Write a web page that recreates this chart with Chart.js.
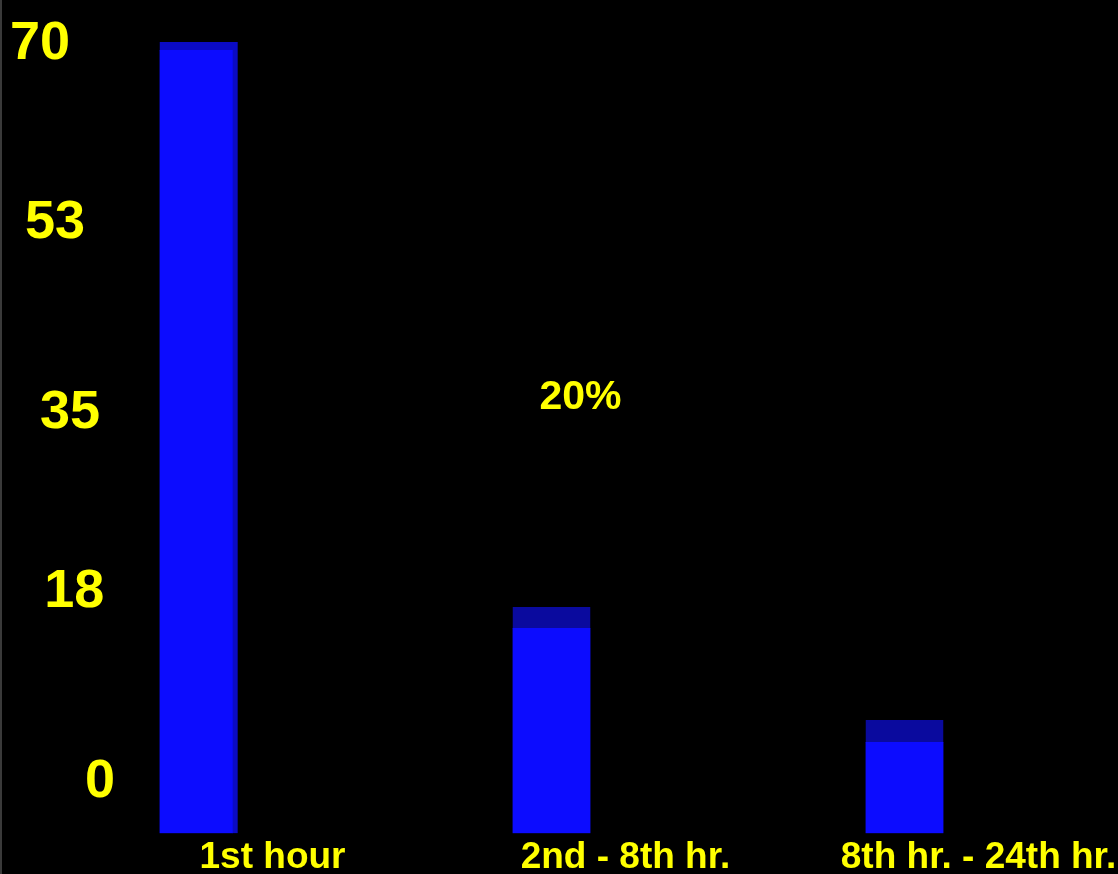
<!DOCTYPE html>
<html>
<head>
<meta charset="utf-8">
<script src="https://cdn.jsdelivr.net/npm/chart.js@4.4.0/dist/chart.umd.min.js"></script>
<style>
  html, body { margin: 0; padding: 0; background: #000; }
  #wrap { position: relative; width: 1118px; height: 874px; }
  #edge { position: absolute; left: 0; top: 0; width: 2px; height: 874px; background: #3a3a3a; }
</style>
</head>
<body>
<div id="wrap">
  <canvas id="timeChart" width="1118" height="874"></canvas>
  <div id="edge"></div>
</div>
<script>
// data
const categories = ['1st hour', '2nd - 8th hr.', '8th hr. - 24th hr.'];
const shares = [70, 20, 10];
const shareLabels = ['', '20%', ''];
const yTicks = [0, 18, 35, 53, 70];

const yellow = '#ffff00';
// fake 3D: darker top cap (and side on the first bar)
const capColors = ['#0b0bc4', '#0a0a9e', '#0a0a9e'];
const capWidths = [{ top: 8, right: 5 }, { top: 21 }, { top: 22 }];
// the back-wall labels lean to the right going down
const tickPad = { 70: '   ', 53: '  ', 35: ' ', 18: '\u2009', 0: '' };

const shareLabelPlugin = {
    id: 'shareLabel',
    afterDatasetsDraw(chart) {
        const ctx = chart.ctx;
        const bars = chart.getDatasetMeta(0).data;
        ctx.save();
        ctx.fillStyle = yellow;
        ctx.font = 'bold 41px "Liberation Sans", Arial, sans-serif';
        ctx.textAlign = 'center';
        ctx.textBaseline = 'middle';
        bars.forEach((bar, i) => {
            if (shareLabels[i]) ctx.fillText(shareLabels[i], bar.x + 29, bar.y - 210);
        });
        ctx.restore();
    }
};

new Chart(document.getElementById('timeChart'), {
    type: 'bar',
    data: {
        labels: categories,
        datasets: [{
            data: shares,
            yAxisID: 'y',
            backgroundColor: '#0c0cff',
            borderColor: c => capColors[c.dataIndex],
            borderWidth: c => capWidths[c.dataIndex],
            borderSkipped: false,
            barThickness: 78
        }]
    },
    options: {
        responsive: false,
        animation: false,
        layout: { padding: { left: 22, right: 37, top: 40, bottom: -9 } },
        plugins: {
            legend: { display: false },
            tooltip: { enabled: false }
        },
        scales: {
            x: {
                grid: { display: false, drawTicks: false },
                border: { display: false },
                ticks: {
                    color: yellow,
                    font: { family: '"Liberation Sans", Arial, sans-serif', size: 37, weight: 'bold', lineHeight: 0.8 },
                    padding: 10,
                    labelOffset: 74,
                    maxRotation: 0,
                    autoSkip: false
                }
            },
            y: { display: false, min: 0, max: 70.2 },
            y2: {
                position: 'left',
                min: -4.86,
                max: 70.38,
                grid: { display: false, drawTicks: false },
                border: { display: false },
                afterBuildTicks: axis => { axis.ticks = yTicks.map(v => ({ value: v })); },
                ticks: {
                    mirror: true,
                    crossAlign: 'far',
                    padding: -4,
                    color: yellow,
                    font: { family: '"Liberation Sans", Arial, sans-serif', size: 54, weight: 'bold', lineHeight: 1 },
                    callback: v => v + (tickPad[v] || '')
                }
            }
        }
    },
    plugins: [shareLabelPlugin]
});
</script>
</body>
</html>
